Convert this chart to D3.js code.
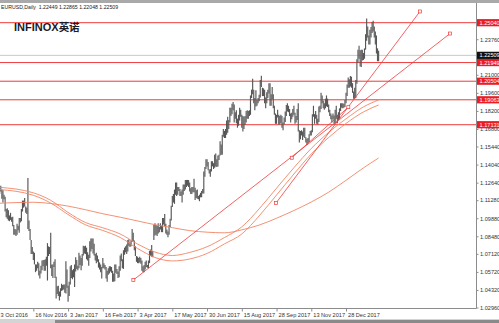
<!DOCTYPE html>
<html>
<head>
<meta charset="utf-8">
<script src="https://cdnjs.cloudflare.com/ajax/libs/d3/7.8.5/d3.min.js"></script>
<style>
	html, body { margin: 0; padding: 0; background: #fff; }
	svg { display: block; font-family: 'Liberation Sans', Arial, sans-serif; }
</style>
</head>
<body>
<div id="chart"></div>
<script>
(function () {
	'use strict';

	// EURUSD daily, one entry per bar (3 Oct 2016 .. 9 Feb 2018)
	var barHigh = [
		1.1240, 1.1215, 1.1240, 1.1210, 1.1205, 1.1170, 1.1155, 1.1060, 1.1065, 1.1050, 1.1010, 1.1030, 1.0995, 1.1000, 1.0935, 1.0905,
		1.0900, 1.0945, 1.0930, 1.0990, 1.0990, 1.1060, 1.1125, 1.1125, 1.1145, 1.1080, 1.1070, 1.1300, 1.0970, 1.0905, 1.0820, 1.0765,
		1.0730, 1.0720, 1.0630, 1.0630, 1.0650, 1.0640, 1.0580, 1.0620, 1.0660, 1.0665, 1.0665, 1.0670, 1.0690, 1.0795, 1.0770, 1.0765,
		1.0875, 1.0630, 1.0630, 1.0650, 1.0670, 1.0535, 1.0460, 1.0465, 1.0420, 1.0445, 1.0480, 1.0470, 1.0475, 1.0475, 1.0655, 1.0590,
		1.0465, 1.0495, 1.0615, 1.0625, 1.0585, 1.0595, 1.0630, 1.0685, 1.0665, 1.0620, 1.0720, 1.0700, 1.0680, 1.0710, 1.0775, 1.0770,
		1.0775, 1.0760, 1.0725, 1.0705, 1.0810, 1.0830, 1.0830, 1.0830, 1.0790, 1.0710, 1.0720, 1.0700, 1.0670, 1.0645, 1.0630, 1.0610,
		1.0680, 1.0640, 1.0625, 1.0610, 1.0580, 1.0600, 1.0615, 1.0615, 1.0610, 1.0580, 1.0560, 1.0630, 1.0630, 1.0595, 1.0575, 1.0615,
		1.0700, 1.0715, 1.0670, 1.0740, 1.0760, 1.0770, 1.0785, 1.0820, 1.0825, 1.0800, 1.0820, 1.0905, 1.0875, 1.0815, 1.0770, 1.0695,
		1.0690, 1.0680, 1.0690, 1.0680, 1.0660, 1.0615, 1.0625, 1.0650, 1.0660, 1.0625, 1.0660, 1.0735, 1.0745, 1.0780, 1.0735, 1.0935,
		1.0950, 1.0935, 1.0930, 1.0950, 1.0920, 1.0950, 1.0930, 1.0990, 1.0990, 1.1020, 1.0945, 1.0900, 1.0885, 1.0935, 1.0985, 1.1085,
		1.1160, 1.1175, 1.1210, 1.1265, 1.1265, 1.1230, 1.1230, 1.1215, 1.1195, 1.1210, 1.1250, 1.1250, 1.1285, 1.1285, 1.1285, 1.1285,
		1.1265, 1.1220, 1.1230, 1.1230, 1.1295, 1.1225, 1.1205, 1.1210, 1.1160, 1.1170, 1.1185, 1.1200, 1.1215, 1.1350, 1.1385, 1.1445,
		1.1445, 1.1425, 1.1365, 1.1370, 1.1430, 1.1430, 1.1415, 1.1480, 1.1490, 1.1445, 1.1475, 1.1480, 1.1585, 1.1560, 1.1635, 1.1680,
		1.1665, 1.1680, 1.1745, 1.1775, 1.1750, 1.1845, 1.1845, 1.1875, 1.1890, 1.1870, 1.1810, 1.1825, 1.1760, 1.1790, 1.1845, 1.1830,
		1.1790, 1.1780, 1.1775, 1.1780, 1.1820, 1.1825, 1.1820, 1.1825, 1.1940, 1.1985, 1.2070, 1.1985, 1.1920, 1.1980, 1.1905, 1.1920,
		1.1945, 1.2060, 1.2092, 1.2000, 1.1995, 1.1985, 1.1925, 1.1965, 1.1985, 1.2035, 1.2035, 1.1950, 1.2005, 1.1950, 1.1860, 1.1800,
		1.1790, 1.1830, 1.1790, 1.1780, 1.1790, 1.1780, 1.1730, 1.1770, 1.1815, 1.1865, 1.1880, 1.1860, 1.1835, 1.1800, 1.1805, 1.1835,
		1.1860, 1.1805, 1.1780, 1.1835, 1.1880, 1.1670, 1.1665, 1.1670, 1.1660, 1.1690, 1.1690, 1.1615, 1.1605, 1.1610, 1.1640, 1.1665,
		1.1670, 1.1795, 1.1860, 1.1795, 1.1820, 1.1790, 1.1760, 1.1855, 1.1860, 1.1960, 1.1940, 1.1900, 1.1880, 1.1915, 1.1940, 1.1915,
		1.1870, 1.1830, 1.1800, 1.1785, 1.1800, 1.1785, 1.1830, 1.1860, 1.1790, 1.1810, 1.1840, 1.1880, 1.1880, 1.1880, 1.1875, 1.1905,
		1.1960, 1.2025, 1.2080, 1.2065, 1.2090, 1.2085, 1.2035, 1.1970, 1.2000, 1.2060, 1.2220, 1.2295, 1.2325, 1.2290, 1.2295, 1.2295,
		1.2270, 1.2305, 1.2415, 1.2537, 1.2475, 1.2405, 1.2450, 1.2470, 1.2510, 1.2520, 1.2475, 1.2435, 1.2405, 1.2305, 1.2287
	];

	var barLow = [
		1.1195, 1.1175, 1.1195, 1.1140, 1.1110, 1.1135, 1.1040, 1.0995, 1.0985, 1.0970, 1.0965, 1.0975, 1.0960, 1.0925, 1.0860, 1.0860,
		1.0850, 1.0860, 1.0895, 1.0875, 1.0955, 1.0965, 1.1040, 1.1070, 1.1080, 1.1030, 1.1020, 1.0905, 1.0890, 1.0820, 1.0710, 1.0710,
		1.0665, 1.0630, 1.0570, 1.0580, 1.0600, 1.0545, 1.0520, 1.0560, 1.0585, 1.0615, 1.0580, 1.0580, 1.0620, 1.0505, 1.0695, 1.0710,
		1.0600, 1.0540, 1.0525, 1.0610, 1.0525, 1.0365, 1.0400, 1.0385, 1.0350, 1.0380, 1.0425, 1.0430, 1.0435, 1.0410, 1.0405, 1.0450,
		1.0340, 1.0385, 1.0475, 1.0525, 1.0515, 1.0530, 1.0455, 1.0575, 1.0595, 1.0585, 1.0600, 1.0625, 1.0585, 1.0620, 1.0700, 1.0715,
		1.0710, 1.0670, 1.0660, 1.0620, 1.0680, 1.0730, 1.0750, 1.0715, 1.0700, 1.0660, 1.0640, 1.0650, 1.0605, 1.0590, 1.0570, 1.0520,
		1.0600, 1.0600, 1.0590, 1.0520, 1.0495, 1.0550, 1.0560, 1.0575, 1.0565, 1.0495, 1.0495, 1.0500, 1.0565, 1.0555, 1.0525, 1.0530,
		1.0580, 1.0655, 1.0600, 1.0595, 1.0705, 1.0725, 1.0710, 1.0730, 1.0775, 1.0765, 1.0770, 1.0805, 1.0810, 1.0740, 1.0695, 1.0650,
		1.0640, 1.0640, 1.0645, 1.0635, 1.0580, 1.0570, 1.0570, 1.0590, 1.0610, 1.0605, 1.0600, 1.0640, 1.0695, 1.0690, 1.0685, 1.0820,
		1.0855, 1.0860, 1.0850, 1.0870, 1.0880, 1.0900, 1.0880, 1.0880, 1.0940, 1.0925, 1.0870, 1.0860, 1.0840, 1.0860, 1.0920, 1.0970,
		1.1075, 1.1110, 1.1100, 1.1170, 1.1160, 1.1170, 1.1200, 1.1160, 1.1160, 1.1110, 1.1170, 1.1200, 1.1210, 1.1230, 1.1240, 1.1230,
		1.1195, 1.1175, 1.1175, 1.1190, 1.1190, 1.1130, 1.1145, 1.1140, 1.1135, 1.1120, 1.1150, 1.1150, 1.1180, 1.1180, 1.1310, 1.1370,
		1.1390, 1.1360, 1.1335, 1.1310, 1.1350, 1.1390, 1.1370, 1.1380, 1.1390, 1.1385, 1.1390, 1.1440, 1.1475, 1.1480, 1.1480, 1.1620,
		1.1610, 1.1610, 1.1635, 1.1650, 1.1680, 1.1730, 1.1780, 1.1795, 1.1825, 1.1730, 1.1760, 1.1725, 1.1690, 1.1705, 1.1745, 1.1775,
		1.1690, 1.1660, 1.1680, 1.1710, 1.1730, 1.1760, 1.1760, 1.1780, 1.1790, 1.1920, 1.1950, 1.1880, 1.1825, 1.1855, 1.1860, 1.1880,
		1.1895, 1.1925, 1.2005, 1.1935, 1.1935, 1.1880, 1.1840, 1.1880, 1.1920, 1.1955, 1.1860, 1.1860, 1.1910, 1.1840, 1.1790, 1.1720,
		1.1720, 1.1770, 1.1715, 1.1715, 1.1725, 1.1690, 1.1670, 1.1715, 1.1735, 1.1780, 1.1815, 1.1810, 1.1780, 1.1730, 1.1755, 1.1775,
		1.1790, 1.1720, 1.1730, 1.1750, 1.1660, 1.1575, 1.1600, 1.1630, 1.1595, 1.1620, 1.1610, 1.1575, 1.1555, 1.1570, 1.1580, 1.1630,
		1.1630, 1.1655, 1.1775, 1.1720, 1.1760, 1.1720, 1.1715, 1.1735, 1.1810, 1.1835, 1.1880, 1.1840, 1.1830, 1.1840, 1.1855, 1.1850,
		1.1810, 1.1780, 1.1755, 1.1730, 1.1755, 1.1720, 1.1725, 1.1760, 1.1725, 1.1750, 1.1760, 1.1820, 1.1845, 1.1840, 1.1845, 1.1850,
		1.1880, 1.1935, 1.2000, 1.2000, 1.2010, 1.2000, 1.1960, 1.1915, 1.1915, 1.1920, 1.2030, 1.2195, 1.2225, 1.2165, 1.2160, 1.2210,
		1.2215, 1.2225, 1.2295, 1.2365, 1.2390, 1.2335, 1.2335, 1.2390, 1.2425, 1.2435, 1.2390, 1.2335, 1.2265, 1.2205, 1.2205
	];

	// time axis: a label every 32 bars
	var dateTickIndex = [0, 32, 64, 96, 128, 160, 192, 224, 256, 288, 320];
	var dateTickLabels = ['3 Oct 2016', '16 Nov 2016', '3 Jan 2017', '16 Feb 2017', '3 Apr 2017', '17 May 2017',
		'30 Jun 2017', '15 Aug 2017', '28 Sep 2017', '13 Nov 2017', '28 Dec 2017'];

	// price axis (the 1.22360 label sits under the last price tag, so it is left out)
	var priceTicks = [1.23760, 1.21000, 1.19600, 1.18200, 1.16800, 1.15440, 1.14040, 1.12640,
		1.11280, 1.09880, 1.08480, 1.07120, 1.05720, 1.04320, 1.02960];

	// horizontal levels and last price
	var levelValues = [1.25040, 1.21949, 1.20504, 1.19063, 1.17131];
	var lastPrice = 1.22509;
	var headerText = 'EURUSD,Daily  1.22449 1.22865 1.22048 1.22509';

	// moving averages, sampled at these bars
	var maIndex = [0, 32, 48, 64, 80, 96, 112, 128, 144, 160, 176, 192, 208, 224, 240, 256, 272, 288, 304, 320, 336, 350];
	var maFast = [1.1228, 1.1185, 1.1127, 1.1033, 1.0955, 1.0914, 1.0866, 1.0788, 1.0726, 1.0699, 1.0723,
		1.0767, 1.0838, 1.0921, 1.1061, 1.1221, 1.1380, 1.1529, 1.1654, 1.1759, 1.1851, 1.1905];
	var maMid = [1.1211, 1.1166, 1.1106, 1.1017, 1.0937, 1.0893, 1.0839, 1.0754, 1.0684, 1.0657, 1.0672,
		1.0715, 1.0789, 1.0866, 1.1006, 1.1168, 1.1331, 1.1486, 1.1614, 1.1723, 1.1812, 1.1866];
	var maSlow = [1.1104, 1.1112, 1.1102, 1.1082, 1.1054, 1.1023, 1.0996, 1.0967, 1.0938, 1.0915, 1.0892,
		1.0880, 1.0875, 1.0898, 1.0935, 1.0988, 1.1048, 1.1114, 1.1190, 1.1282, 1.1378, 1.1455];

	// trend lines: [bar, price] of each end
	var trendFrom = [[124.1, 1.0509], [255.5, 1.1106], [270.0, 1.1457]];
	var trendTo = [[415.8, 1.2420], [388.1, 1.2591], [322.1, 1.1849]];

	var width = 499,
		height = 323,
		plot = { left: 0, right: 476, top: 3, bottom: 308 };

	var xScale = d3.scaleLinear().domain([0, 350]).range([-1.4, 378.6]),
		yScale = d3.scaleLinear().domain([1.0296, 1.2504]).range([307.5, 22.7]);

	var svg = d3.select('#chart')
		.append('svg')
		.attr('width', width)
		.attr('height', height);

	svg.append('rect')
		.attr('width', width)
		.attr('height', height)
		.attr('fill', '#fff');

	svg.append('clipPath')
		.attr('id', 'plot-clip')
		.append('rect')
		.attr('x', plot.left)
		.attr('y', plot.top)
		.attr('width', plot.right - plot.left)
		.attr('height', plot.bottom - plot.top);

	var plotG = svg.append('g').attr('clip-path', 'url(#plot-clip)');

	// LAST PRICE LINE
	plotG.append('line')
		.attr('x1', plot.left)
		.attr('x2', plot.right)
		.attr('y1', yScale(lastPrice))
		.attr('y2', yScale(lastPrice))
		.attr('stroke', '#c8c8c8')
		.attr('stroke-width', 1);

	// LEVELS
	plotG.selectAll('.level')
		.data(levelValues)
		.join('line')
		.attr('class', 'level')
		.attr('x1', plot.left)
		.attr('x2', plot.right)
		.attr('y1', function (d) { return yScale(d); })
		.attr('y2', function (d) { return yScale(d); })
		.attr('stroke', '#ee3b3b')
		.attr('stroke-width', 1);

	// BARS
	plotG.selectAll('.bar')
		.data(barHigh)
		.join('line')
		.attr('class', 'bar')
		.attr('x1', function (d, i) { return xScale(i); })
		.attr('x2', function (d, i) { return xScale(i); })
		.attr('y1', function (d) { return yScale(d); })
		.attr('y2', function (d, i) { return yScale(barLow[i]); })
		.attr('stroke', '#575757')
		.attr('stroke-width', 1.15);

	// MOVING AVERAGES
	var maLine = d3.line()
		.x(function (d) { return xScale(d[0]); })
		.y(function (d) { return yScale(d[1]); })
		.curve(d3.curveMonotoneX);

	[maFast, maMid, maSlow].forEach(function (series) {
		plotG.append('path')
			.datum(maIndex.map(function (idx, i) { return [idx, series[i]]; }))
			.attr('d', maLine)
			.attr('fill', 'none')
			.attr('stroke', '#f28464')
			.attr('stroke-width', 0.9);
	});

	// TREND LINES
	trendFrom.forEach(function (from, i) {
		var to = trendTo[i];
		plotG.append('line')
			.attr('x1', xScale(from[0]))
			.attr('y1', yScale(from[1]))
			.attr('x2', xScale(to[0]))
			.attr('y2', yScale(to[1]))
			.attr('stroke', '#ef3a3a')
			.attr('stroke-width', 0.8);

		[from, to].forEach(function (p) {
			plotG.append('rect')
				.attr('x', xScale(p[0]) - 1.5)
				.attr('y', yScale(p[1]) - 1.5)
				.attr('width', 3)
				.attr('height', 3)
				.attr('fill', '#fff')
				.attr('stroke', '#ef3a3a')
				.attr('stroke-width', 0.7);
		});
	});

	// FRAME
	svg.append('rect')
		.attr('x', 0)
		.attr('y', 0)
		.attr('width', width)
		.attr('height', 3)
		.attr('fill', '#a9a9a9');

	svg.append('line')
		.attr('x1', plot.right + 0.5)
		.attr('x2', plot.right + 0.5)
		.attr('y1', plot.top)
		.attr('y2', plot.bottom + 0.5)
		.attr('stroke', '#8c8c8c');

	svg.append('line')
		.attr('x1', 0)
		.attr('x2', plot.right + 0.5)
		.attr('y1', plot.bottom + 0.5)
		.attr('y2', plot.bottom + 0.5)
		.attr('stroke', '#8c8c8c');

	svg.append('rect')
		.attr('x', 0)
		.attr('y', 319)
		.attr('width', width)
		.attr('height', 4)
		.attr('fill', '#d4d4d4');

	svg.append('rect')
		.attr('x', 55)
		.attr('y', 320)
		.attr('width', width - 55)
		.attr('height', 3)
		.attr('fill', '#8a8a8a');

	// AXES
	var axisRight = svg.append('g')
		.attr('transform', 'translate(' + (plot.right + 0.5) + ',0)')
		.call(d3.axisRight(yScale).tickValues(priceTicks).tickSize(2).tickPadding(1.5)
			.tickFormat(d3.format('.5f')));

	axisRight.select('.domain').remove();
	axisRight.selectAll('line').attr('stroke', '#8c8c8c');
	axisRight.selectAll('text')
		.attr('font-size', 5.6)
		.attr('font-family', "'Liberation Sans', Arial, sans-serif")
		.attr('fill', '#333');

	var axisBottom = svg.append('g')
		.attr('transform', 'translate(0,' + (plot.bottom + 0.5) + ')')
		.call(d3.axisBottom(xScale).tickValues(dateTickIndex).tickSize(3).tickPadding(2)
			.tickFormat(function (d, i) { return dateTickLabels[i]; }));

	axisBottom.select('.domain').remove();
	axisBottom.selectAll('line').attr('stroke', '#8c8c8c');
	axisBottom.selectAll('text')
		.attr('font-size', 5.6)
		.attr('font-family', "'Liberation Sans', Arial, sans-serif")
		.attr('fill', '#333')
		.attr('text-anchor', 'start')
		.attr('dx', 1.5);

	// PRICE TAGS
	var tags = levelValues.map(function (v) { return { value: v, color: '#ec1c24' }; });
	tags.push({ value: lastPrice, color: '#111' });

	var tagG = svg.selectAll('.tag')
		.data(tags)
		.join('g')
		.attr('class', 'tag')
		.attr('transform', function (d) { return 'translate(' + (plot.right + 1) + ',' + yScale(d.value) + ')'; });

	tagG.append('rect')
		.attr('x', 0)
		.attr('y', -3.6)
		.attr('width', width - plot.right - 1)
		.attr('height', 7.2)
		.attr('fill', function (d) { return d.color; });

	tagG.append('text')
		.attr('x', 2.5)
		.attr('y', 2)
		.attr('font-size', 5.6)
		.attr('fill', '#fff')
		.text(function (d) { return d3.format('.5f')(d.value); });

	// HEADER AND LOGO
	svg.append('text')
		.attr('x', 1)
		.attr('y', 9)
		.attr('font-size', 5.2)
		.attr('fill', '#222')
		.attr('xml:space', 'preserve')
		.style('white-space', 'pre')
		.text(headerText);

	var logo = svg.append('text')
		.attr('x', 14)
		.attr('y', 31)
		.attr('font-size', 11)
		.attr('font-weight', 'bold')
		.attr('fill', '#1c1c28');

	logo.append('tspan').text('INFINOX');
	logo.append('tspan')
		.attr('font-family', "'Noto Sans CJK SC', sans-serif")
		.attr('font-size', 10.5)
		.text('英诺');
}());
</script>
</body>
</html>
